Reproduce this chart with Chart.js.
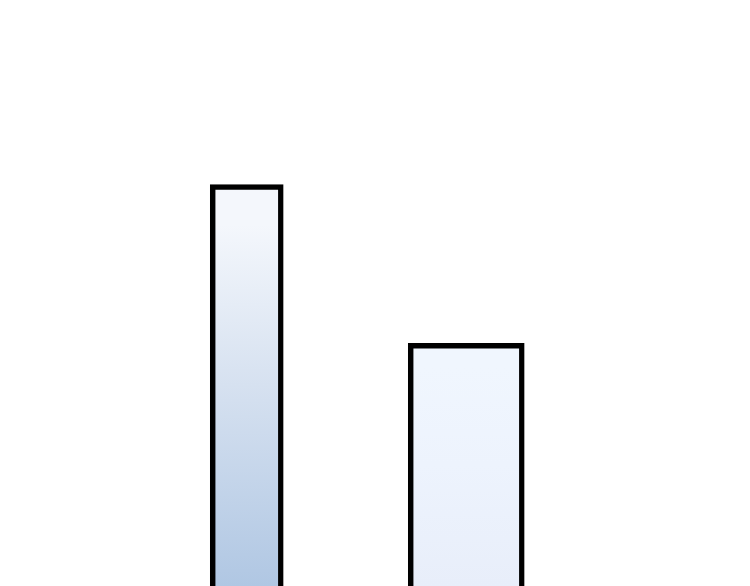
<!DOCTYPE html>
<html>
<head>
<meta charset="utf-8">
<script src="https://cdn.jsdelivr.net/npm/chart.js@4/dist/chart.umd.min.js"></script>
<style>
html,body{margin:0;padding:0;background:#fff;}
#wrap{width:750px;height:586px;position:relative;}
</style>
</head>
<body>
<div id="wrap"><canvas id="c"></canvas></div>
<script>
const categories = ['A', 'B'];
const seriesA = [68.5, null];
const seriesB = [null, 41.4];
const yMin = 0;
const yMax = 100;

function grad(top, mid, bottom) {
  return function (ctx) {
    const chart = ctx.chart;
    const area = chart.chartArea;
    if (!area || ctx.parsed == null || ctx.parsed.y == null) return top;
    const yTop = chart.scales.y.getPixelForValue(ctx.parsed.y);
    const g = chart.ctx.createLinearGradient(0, yTop, 0, area.bottom);
    g.addColorStop(0, top);
    g.addColorStop(0.1, top);
    g.addColorStop(0.5, mid);
    g.addColorStop(1, bottom);
    return g;
  };
}

new Chart(document.getElementById('c'), {
  type: 'bar',
  data: {
    labels: categories,
    datasets: [
      {
        data: seriesA,
        backgroundColor: grad('#f4f7fc', '#d6e1f0', '#b0c7e3'),
        borderColor: '#000',
        borderWidth: 5.5,
        barThickness: 73,
        skipNull: true
      },
      {
        data: seriesB,
        backgroundColor: grad('#f0f6fe', '#edf3fd', '#e8eefa'),
        borderColor: '#000',
        borderWidth: 5.5,
        barThickness: 116,
        skipNull: true
      }
    ]
  },
  options: {
    responsive: true,
    maintainAspectRatio: false,
    animation: false,
    layout: { padding: { left: 137, right: 174, top: 0, bottom: 0 } },
    plugins: { legend: { display: false }, tooltip: { enabled: false } },
    scales: {
      x: { display: false, grid: { display: false } },
      y: { display: false, min: yMin, max: yMax, grid: { display: false } }
    }
  }
});
</script>
</body>
</html>
